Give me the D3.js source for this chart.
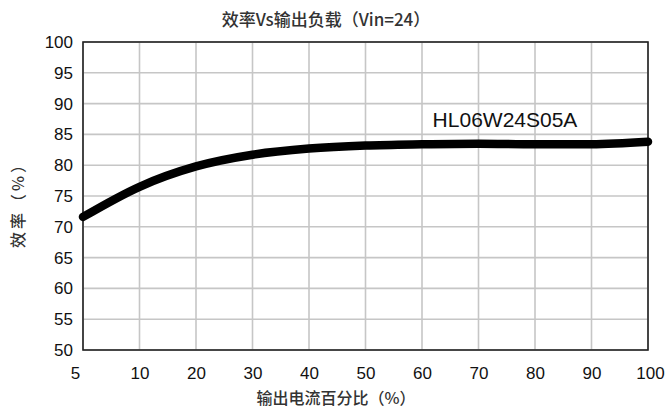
<!DOCTYPE html>
<html><head><meta charset="utf-8">
<script src="https://cdn.jsdelivr.net/npm/d3@7"></script>
<style>
body{margin:0;background:#fff;}
svg{display:block;}
</style></head>
<body>
<svg id="chart" width="666" height="410"></svg>
<script>
const categories = [5, 10, 20, 30, 40, 50, 60, 70, 80, 90, 100];
const efficiency = [71.6, 76.5, 79.8, 81.7, 82.7, 83.2, 83.4, 83.5, 83.4, 83.4, 83.8];
const yTicks = [50, 55, 60, 65, 70, 75, 80, 85, 90, 95, 100];
const seriesName = "HL06W24S05A";
const titleText = "效率Vs输出负载（Vin=24）";
const xTitle = "输出电流百分比（%）";
const yTitle = "效率（%）";

const svg = d3.select("#chart");
const m = {left: 83, right: 648, top: 42, bottom: 350};

const x = d3.scalePoint().domain(categories).range([m.left, m.right]);
const y = d3.scaleLinear().domain([50, 100]).range([m.bottom, m.top]);

// gridlines
svg.append("g").selectAll("line.h").data(yTicks).join("line")
  .attr("x1", m.left).attr("x2", m.right)
  .attr("y1", d => y(d)).attr("y2", d => y(d))
  .attr("stroke", "#c6c6c6").attr("stroke-width", 1.6);
svg.append("g").selectAll("line.v").data(categories).join("line")
  .attr("x1", d => x(d)).attr("x2", d => x(d))
  .attr("y1", m.top).attr("y2", m.bottom)
  .attr("stroke", "#c6c6c6").attr("stroke-width", 1.6);

// border
svg.append("rect").attr("x", m.left).attr("y", m.top)
  .attr("width", m.right - m.left).attr("height", m.bottom - m.top)
  .attr("fill", "none").attr("stroke", "#222").attr("stroke-width", 1.6);

// y axis labels
const yAxis = d3.axisLeft(y).tickValues(yTicks).tickSize(0).tickPadding(10);
const gy = svg.append("g").attr("transform", `translate(${m.left},0)`).call(yAxis);
gy.select(".domain").remove();
gy.selectAll("text").attr("font-family", "Liberation Sans, Arial, sans-serif")
  .attr("font-size", 17).attr("fill", "#111");

// x axis labels
const xAxis = d3.axisBottom(x).tickSize(0).tickPadding(17);
const gx = svg.append("g").attr("transform", `translate(0,${m.bottom})`).call(xAxis);
gx.select(".domain").remove();
gx.selectAll("text").attr("font-family", "Liberation Sans, Arial, sans-serif")
  .attr("font-size", 17).attr("fill", "#111")
  .attr("dx", (d, i) => i === 0 ? -8 : (i === categories.length - 1 ? 2 : 0));

// line
const line = d3.line().x((d, i) => x(categories[i])).y(d => y(d)).curve(d3.curveMonotoneX);
svg.append("path").datum(efficiency).attr("d", line)
  .attr("fill", "none").attr("stroke", "#000").attr("stroke-width", 8.5)
  .attr("stroke-linecap", "round").attr("stroke-linejoin", "round");

// series label
svg.append("text").attr("x", x(60) + 83).attr("y", 127)
  .attr("text-anchor", "middle")
  .attr("font-family", "Liberation Sans, Arial, sans-serif").attr("font-size", 21)
  .attr("fill", "#111").text(seriesName);

// title
svg.append("text").attr("x", 326).attr("y", 26).attr("text-anchor", "middle")
  .attr("font-family", "Noto Sans CJK SC").attr("font-size", 17).attr("font-weight", 500)
  .attr("fill", "#333").text(titleText);

// x title
svg.append("text").attr("x", 336).attr("y", 404).attr("text-anchor", "middle")
  .attr("font-family", "Noto Sans CJK SC").attr("font-size", 16).attr("font-weight", 500)
  .attr("fill", "#333").text(xTitle);

// y title
svg.append("text").attr("transform", "translate(24,201) rotate(-90)")
  .attr("text-anchor", "middle").attr("letter-spacing", 3)
  .attr("font-family", "Noto Sans CJK SC").attr("font-size", 16).attr("font-weight", 500)
  .attr("fill", "#333").text(yTitle);
</script>
</body></html>
